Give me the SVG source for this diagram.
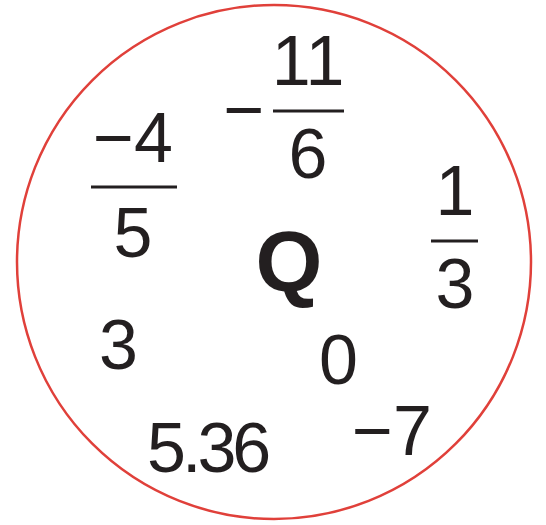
<svg xmlns="http://www.w3.org/2000/svg" width="546" height="525" viewBox="0 0 546 525">
<style>
.t{font-family:"Liberation Sans",Arial,sans-serif;font-size:70px;fill:#231f20;text-anchor:middle}
.q{font-family:"Liberation Sans",Arial,sans-serif;font-size:86px;font-weight:bold;fill:#231f20;text-anchor:middle}
.bar{stroke:#231f20;stroke-width:3}
</style>
<rect width="546" height="525" fill="#fff"/>
<circle cx="274" cy="262" r="257" fill="none" stroke="#e0403a" stroke-width="2.5"/>
<g id="frac-neg4-5">
<text class="t" x="133" y="162">−4</text>
<line class="bar" x1="91" y1="187" x2="177" y2="187"/>
<text class="t" x="133" y="257">5</text>
</g>
<g id="frac-neg11-6">
<text class="t" x="244" y="134">−</text>
<text class="t" x="308" y="85">11</text>
<line class="bar" x1="273" y1="111" x2="344" y2="111"/>
<text class="t" x="308" y="178">6</text>
</g>
<g id="frac-1-3">
<text class="t" x="455" y="215">1</text>
<line class="bar" x1="431" y1="241" x2="478" y2="241"/>
<text class="t" x="455" y="308">3</text>
</g>
<g id="Q"><text class="q" x="289" y="291">Q</text></g>
<g id="n3"><text class="t" x="118.5" y="369">3</text></g>
<g id="n0"><text class="t" x="338.5" y="384">0</text></g>
<g id="n536"><text class="t" x="147" y="472" style="text-anchor:start;letter-spacing:-4px">5.36</text></g>
<g id="neg7"><text class="t" x="392" y="455">−7</text></g>
</svg>
